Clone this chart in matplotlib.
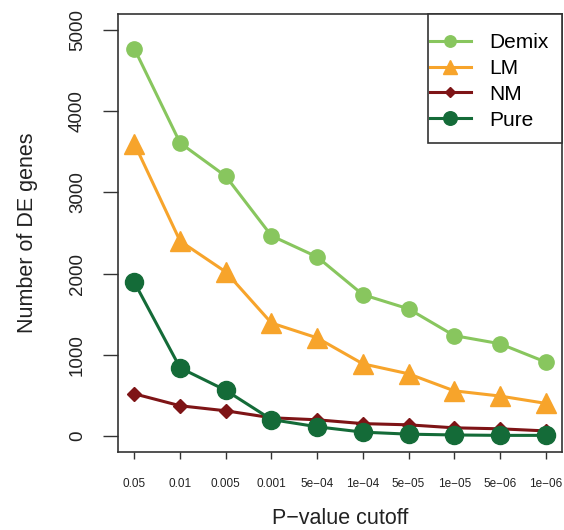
import numpy as np
import matplotlib.pyplot as plt
from matplotlib.patches import Rectangle

plt.rcParams['font.family'] = ['Liberation Sans', 'DejaVu Sans']

cutoffs = ['0.05', '0.01', '0.005', '0.001', '5e\u221204', '1e\u221204',
           '5e\u221205', '1e\u221205', '5e\u221206', '1e\u221206']
demix = [4770, 3610, 3200, 2465, 2205, 1740, 1565, 1235, 1135, 910]
lm = [3600, 2400, 2020, 1390, 1207, 887, 764, 554, 490, 400]
nm = [517, 370, 308, 222, 197, 150, 135, 98, 86, 60]
pure = [1890, 837, 560, 200, 111, 45, 20, 10, 5, 5]

x = np.arange(1, len(cutoffs) + 1)

W, H = 564, 530
fig = plt.figure(figsize=(W / 100, H / 100), dpi=100)
ax = fig.add_axes([118 / W, 78 / H, 444 / W, 438 / H])

ax.plot(x, demix, color='#88C65E', lw=2.2, marker='o', ms=11, label='Demix')
ax.plot(x, lm, color='#F7A42B', lw=2.2, marker='^', ms=14, label='LM')
ax.plot(x, nm, color='#7E1416', lw=2.2, marker='D', ms=7, label='NM')
ax.plot(x, pure, color='#146B38', lw=2.2, marker='o', ms=13, label='Pure')

ax.set_xlim(0.64, 10.36)
ax.set_ylim(-200, 5200)
ax.set_xticks(x)
ax.set_xticklabels(cutoffs, fontsize=8.5)
ax.set_yticks([0, 1000, 2000, 3000, 4000, 5000])
ax.set_yticklabels(['0', '1000', '2000', '3000', '4000', '5000'],
                   rotation=90, va='center', fontsize=13.5)
ax.tick_params(axis='y', length=11, width=1, colors='#333333', pad=12)
ax.tick_params(axis='x', length=5, width=1, colors='#333333', pad=14)
for lab in ax.get_xticklabels() + ax.get_yticklabels():
    lab.set_color('#222222')
for s in ax.spines.values():
    s.set_linewidth(1.2)
    s.set_color('#333333')

ax.set_xlabel('P\u2212value cutoff', fontsize=15.5, labelpad=13, color='#222222')
ax.set_ylabel('Number of DE genes', fontsize=15.5, labelpad=22, color='#222222')

# legend box drawn by hand (R style: wide vertical padding, tight sides)
box = Rectangle((428 / W, 1 - 143 / H), 134 / W, 129 / H,
                transform=fig.transFigure, facecolor='white',
                edgecolor='#333333', lw=1.2, zorder=5, clip_on=False)
ax.add_artist(box)
leg = ax.legend(loc='upper left', bbox_to_anchor=(430 / W, 1 - 33 / H),
                bbox_transform=fig.transFigure, borderaxespad=0, borderpad=0,
                frameon=False, fontsize=15, handlelength=1.95,
                handletextpad=0.9, labelspacing=0.33, markerscale=0.75)
leg.set_zorder(6)

fig.savefig('out.png', dpi=100)
